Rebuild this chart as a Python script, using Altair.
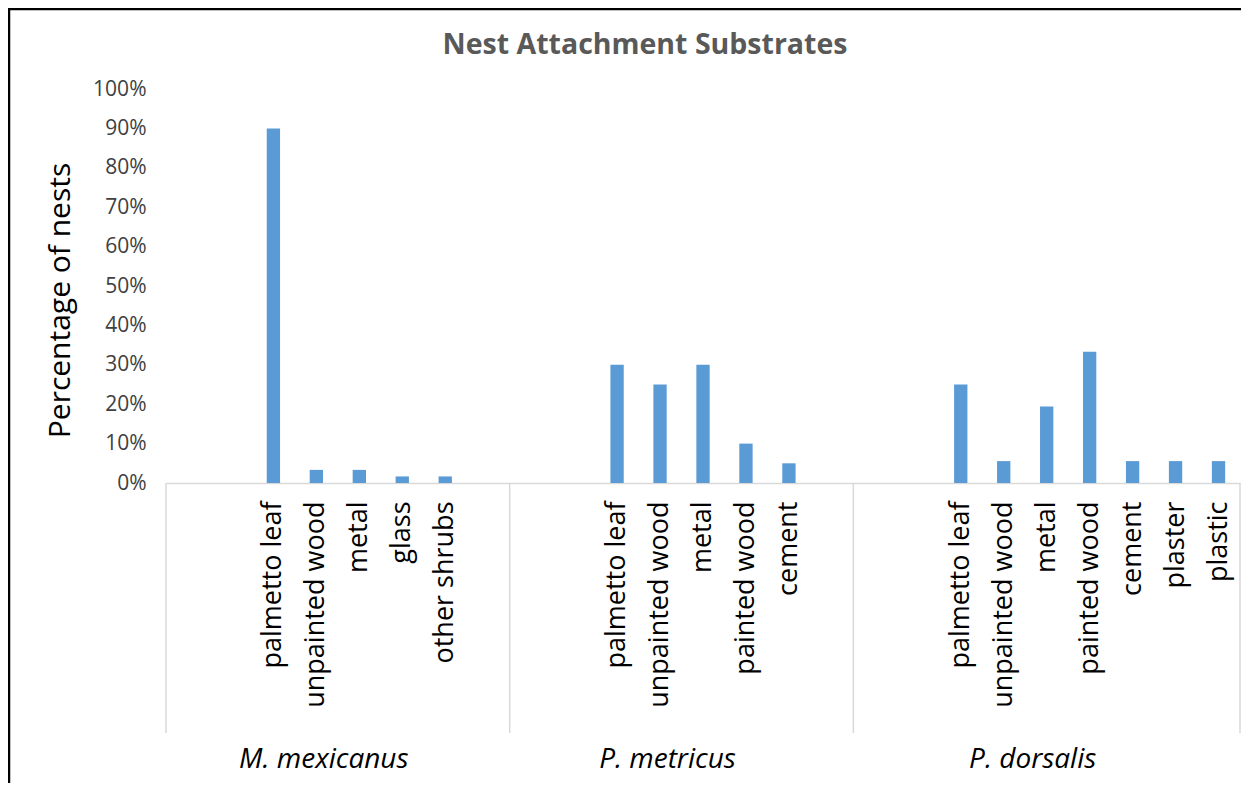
import altair as alt
import pandas as pd

# ---- data ----
title_text = "Nest Attachment Substrates"
groups = ["M. mexicanus", "P. metricus", "P. dorsalis"]
slots_per_group = [8, 8, 9]
lead_blanks = [2, 2, 2]

mex_cats = ["palmetto leaf", "unpainted wood", "metal", "glass", "other shrubs"]
mex_vals = [0.90, 0.0333, 0.0333, 0.0167, 0.0167]

met_cats = ["palmetto leaf", "unpainted wood", "metal", "painted wood", "cement"]
met_vals = [0.30, 0.25, 0.30, 0.10, 0.05]

dor_cats = ["palmetto leaf", "unpainted wood", "metal", "painted wood",
            "cement", "plaster", "plastic"]
dor_vals = [0.25, 0.0556, 0.1944, 0.3333, 0.0556, 0.0556, 0.0556]

y_ticks = [i / 10 for i in range(11)]

# ---- build table ----
cats_all = [mex_cats, met_cats, dor_cats]
vals_all = [mex_vals, met_vals, dor_vals]
ZW = "\u200b"
rows = []
blank_n = 0
for gi, (cats, vals) in enumerate(zip(cats_all, vals_all)):
    for _ in range(lead_blanks[gi]):
        blank_n += 1
        rows.append({"key": ZW * blank_n, "value": None, "group": groups[gi]})
    for c, v in zip(cats, vals):
        rows.append({"key": c + ZW * (gi + 1), "value": v, "group": groups[gi]})
    for _ in range(slots_per_group[gi] - lead_blanks[gi] - len(cats)):
        blank_n += 1
        rows.append({"key": ZW * blank_n, "value": None, "group": groups[gi]})
df = pd.DataFrame(rows)
keys = list(df["key"])
n_slots = len(keys)

bounds = [0]
for s in slots_per_group:
    bounds.append(bounds[-1] + s)
df_bounds = pd.DataFrame({"pos": bounds})
df_groups = pd.DataFrame({
    "pos": [(bounds[i] + bounds[i + 1]) / 2 for i in range(len(groups))],
    "name": groups,
})

W, H = 1074, 394
FONT = "Open Sans"
xq = alt.Scale(domain=[0, n_slots], nice=False, zero=False)

bars = alt.Chart(df).mark_bar(color="#5b9bd5").encode(
    x=alt.X("key:N", sort=None,
            scale=alt.Scale(domain=keys, paddingInner=0.69, paddingOuter=0.345),
            axis=alt.Axis(title=None, labelAngle=-90, labelAlign="right",
                          labelBaseline="middle", labelFontSize=27,
                          labelColor="#000000", labelFont=FONT,
                          labelPadding=18, ticks=False, domainColor="#d9d9d9",
                          domainWidth=1.5, labelOverlap=False, labelLimit=300)),
    y=alt.Y("value:Q",
            scale=alt.Scale(domain=[0, 1]),
            axis=alt.Axis(values=y_ticks, format=".0%", grid=False, domain=False,
                          ticks=False, labelFontSize=21, labelColor="#404040",
                          labelFont=FONT, labelPadding=20,
                          title="Percentage of nests", titleFontSize=30,
                          titleFont=FONT, titleFontWeight="normal",
                          titleColor="#000000", titleX=-106, titleY=211,
                          titleAngle=-90, titleAlign="center",
                          titleBaseline="middle")),
)

seps = alt.Chart(df_bounds).mark_rule(color="#d9d9d9", strokeWidth=1.5).encode(
    x=alt.X("pos:Q", scale=xq, axis=None),
    y=alt.value(H),
    y2=alt.value(644),
)

glabels = alt.Chart(df_groups).mark_text(
    fontSize=28, fontStyle="italic", font=FONT, color="#000000",
    baseline="middle", align="center", dx=-14
).encode(
    x=alt.X("pos:Q", scale=xq, axis=None),
    y=alt.value(671),
    text="name:N",
)

title = alt.Chart(pd.DataFrame({"t": [title_text]})).mark_text(
    fontSize=28.5, font=FONT, fontWeight="bold", color="#595959",
    align="center", baseline="middle"
).encode(
    x=alt.value(479), y=alt.value(-44), text="t:N",
)

frame = alt.Chart(pd.DataFrame({"a": [0]})).mark_rect(
    fill=None, stroke="#000000", strokeWidth=2.5
).encode(
    x=alt.value(-157), x2=alt.value(1200), y=alt.value(-80), y2=alt.value(800),
)

chart = alt.layer(bars, seps, glabels, title, frame).resolve_scale(
    x="independent"
).properties(
    width=W, height=H,
    autosize=alt.AutoSizeParams(type="none"),
    padding={"left": 158, "top": 81, "right": 1, "bottom": 300},
).configure_view(stroke=None)

chart.save("out.html", embed_options={"renderer": "svg", "actions": False})
